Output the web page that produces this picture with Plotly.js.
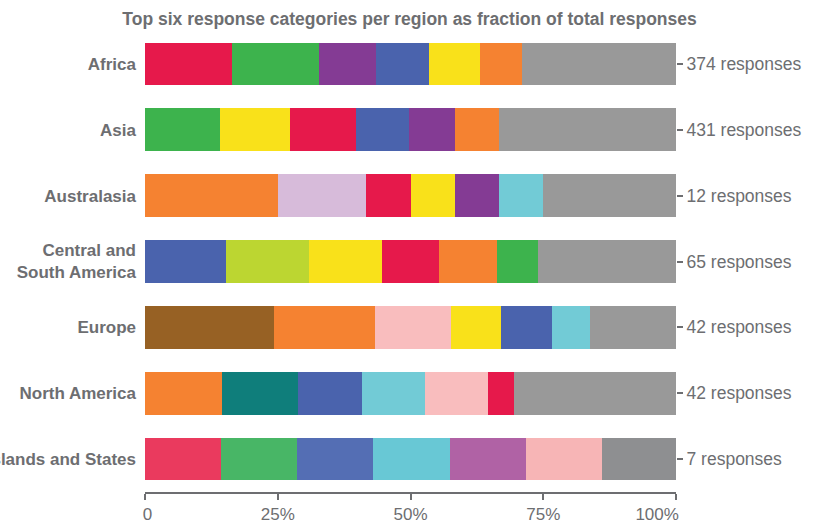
<!DOCTYPE html>
<html>
<head>
<meta charset="utf-8">
<script src="https://cdn.plot.ly/plotly-3.0.1.min.js"></script>
<style>html,body{margin:0;padding:0;background:#fff;}#chart{width:815px;height:528px;}</style>
</head>
<body>
<div id="chart"></div>
<script>
// Regions (top to bottom) and total responses
const regions = ["Africa", "Asia", "Australasia", "Central and<br>South America", "Europe", "North America", "Islands and States"];
const responses = [374, 431, 12, 65, 42, 42, 7];
const responseLabels = responses.map(n => n + " responses");

// Share (%) of each ranked response category, per region (same order as regions)
const rank1 = [16.3, 14.1, 25.0, 15.3, 24.2, 14.5, 14.3];
const rank2 = [16.5, 13.3, 16.7, 15.5, 19.1, 14.4, 14.3];
const rank3 = [10.7, 12.3, 8.3, 13.8, 14.3, 11.9, 14.4];
const rank4 = [10.0, 10.1, 8.3, 10.8, 9.5, 11.9, 14.4];
const rank5 = [9.6, 8.6, 8.3, 10.9, 9.5, 11.9, 14.4];
const rank6 = [7.9, 8.3, 8.3, 7.7, 7.2, 4.8, 14.3];
const other = [29.0, 33.3, 25.1, 26.0, 16.2, 30.6, 13.9];

// X axis ticks
const xTickVals = [0, 25, 50, 75, 100];
const xTickText = ["0", "25%", "50%", "75%", "100%"];

// Styles
const C = {
  red: "#E6194B", green: "#3DB34D", purple: "#843B94", blue: "#4A63AD",
  yellow: "#F9E11A", orange: "#F58231", gray: "#999999", lavender: "#D7BBDA",
  cyan: "#72CBD6", lime: "#BCD631", brown: "#976124", teal: "#0F7E7B", pink: "#F9BDBE",
  red2: "#EA3A5E", green2: "#48B666", blue2: "#546EB4", cyan2: "#68C8D5",
  purple2: "#B062A5", pink2: "#F7B5B6", gray2: "#8E8F91"
};
const rankColors = [
  [C.red, C.green, C.orange, C.blue, C.brown, C.orange, C.red2],
  [C.green, C.yellow, C.lavender, C.lime, C.orange, C.teal, C.green2],
  [C.purple, C.red, C.red, C.yellow, C.pink, C.blue, C.blue2],
  [C.blue, C.blue, C.yellow, C.red, C.yellow, C.cyan, C.cyan2],
  [C.yellow, C.purple, C.purple, C.orange, C.blue, C.pink, C.purple2],
  [C.orange, C.orange, C.cyan, C.green, C.cyan, C.red, C.pink2],
  [C.gray, C.gray, C.gray, C.gray, C.gray, C.gray, C.gray2]
];

const series = [rank1, rank2, rank3, rank4, rank5, rank6, other];
const yIdx = regions.map((_, i) => i);

const traces = series.map((vals, k) => ({
  type: "bar",
  orientation: "h",
  x: vals,
  y: yIdx,
  marker: { color: rankColors[k], line: { width: 0 } },
  hoverinfo: "skip",
  showlegend: false
}));
// invisible trace to anchor right axis
traces.push({ type: "scatter", x: [0], y: [0], yaxis: "y2", mode: "markers", marker: { opacity: 0 }, hoverinfo: "skip", showlegend: false });

const txt = "#6d6e71";
const fam = "'Liberation Sans', Arial, sans-serif";
const nb = "\u00a0";
// edge tick labels nudged inward like the reference
const xTickTextShown = xTickText.map((t, i) =>
  i === 0 ? nb + t : (i === xTickText.length - 1 ? t + nb.repeat(8) : t));

const layout = {
  width: 815, height: 528,
  margin: { l: 145, r: 139, t: 31, b: 36 },
  paper_bgcolor: "#fff", plot_bgcolor: "#fff",
  barmode: "stack",
  bargap: 0.35,
  title: {
    text: "<b>Top six response categories per region as fraction of total responses</b>",
    font: { family: fam, size: 17.5, color: txt },
    x: 0.5025, xanchor: "center", y: 0.964, yanchor: "middle", xref: "container", yref: "container"
  },
  xaxis: {
    range: [0, 100], tickvals: xTickVals, ticktext: xTickTextShown,
    showgrid: false, zeroline: false, showline: true, linecolor: txt, linewidth: 2,
    ticks: "outside", ticklen: 6, tickwidth: 2, tickcolor: txt,
    tickfont: { family: fam, size: 17, color: txt }, fixedrange: true
  },
  yaxis: {
    range: [6.5, -0.5], tickvals: yIdx, ticktext: regions.map(r => "<b>" + r + "</b>"),
    showgrid: false, zeroline: false, showline: false, ticks: "",
    ticklabelstandoff: 8,
    tickfont: { family: fam, size: 17, color: txt }, fixedrange: true
  },
  yaxis2: {
    overlaying: "y", side: "right", range: [6.5, -0.5],
    tickvals: yIdx, ticktext: responseLabels,
    showgrid: false, zeroline: false, showline: false,
    ticks: "outside", ticklen: 6, tickwidth: 2, tickcolor: txt,
    tickfont: { family: fam, size: 17.5, color: txt }, fixedrange: true
  },
  hovermode: false
};

Plotly.newPlot("chart", traces, layout, { displayModeBar: false, staticPlot: true });
</script>
</body>
</html>
